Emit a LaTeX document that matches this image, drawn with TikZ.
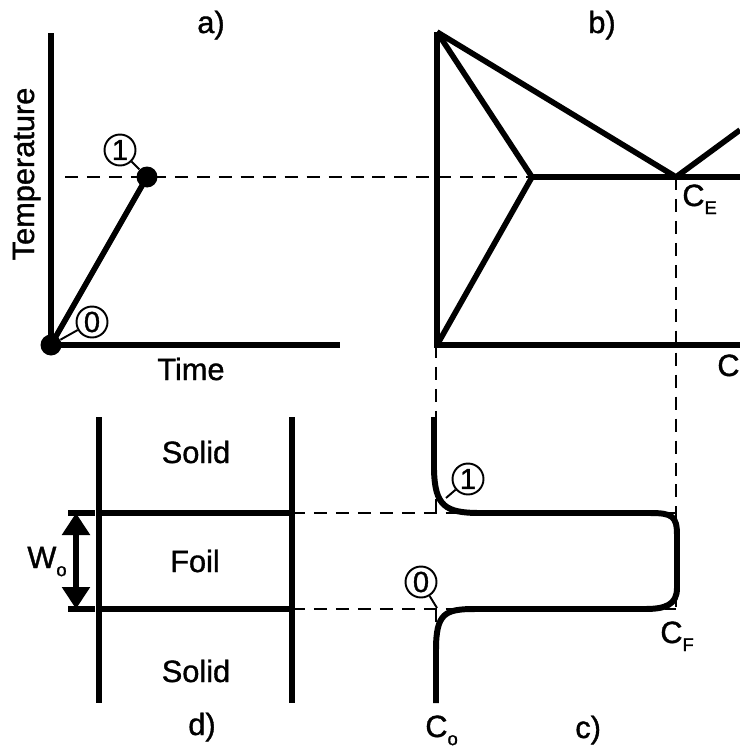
\documentclass[tikz,border=0pt]{standalone}
\usepackage{fontspec}
\setmainfont[FakeBold=1.2]{Liberation Sans}
\usetikzlibrary{arrows.meta}

\newcommand{\low}[1]{\raisebox{-0.5ex}{\fontsize{10.5}{11}\selectfont #1}}

\tikzset{
  heavy/.style={line width=3.2pt},
  guide/.style={line width=1.4pt,dash pattern=on 7.4pt off 5.1pt},
  dot/.style={circle,fill=black,inner sep=0pt,minimum size=0.42cm},
  tag/.style={circle,draw,line width=1.1pt,inner sep=0pt,minimum size=0.62cm,
    font=\fontsize{16.5}{16.5}\selectfont},
  lead/.style={line width=1.1pt},
  lbl/.style={inner sep=0pt,font=\fontsize{17.5}{20}\selectfont},
}

\begin{document}
\begin{tikzpicture}[x=0.02cm,y=-0.02cm,>=Latex]
  \useasboundingbox (0,0) rectangle (740,747);

  % guide lines between the panels
  \draw[guide] (65,177) -- (532,177);
  \draw[guide] (676,177) -- (676,609);
  \draw[guide] (436,345) -- (436,513);
  \draw[guide] (436,609) -- (436,635);
  \draw[guide] (292,513) -- (676,513);
  \draw[guide] (292,609) -- (676,609);

  % a) heating cycle
  \draw[heavy] (51,33) -- (51,345) -- (340,345);
  \node[dot] (s0) at (51,345) {};
  \node[dot] (s1) at (147,177) {};
  \draw[heavy] (s0.center) -- (s1.center);
  \node[tag] (a1) at (120,150) {1};
  \node[tag] (a0) at (92,322) {0};
  \draw[lead] (a1) -- (s1);
  \draw[lead] (a0) -- (s0);
  \node[lbl,rotate=90,anchor=base] (ty) at (34,174) {Temperature};
  \node[lbl,anchor=base west] (tx) at (157,380) {Time};
  \node[lbl,anchor=base west] (la) at (197,33) {a)};

  % b) phase diagram
  \draw[heavy] (437,32) -- (437,345) -- (740,345);
  \draw[heavy] (437,32) -- (532,177) -- (437,345);
  \draw[heavy] (437,32) -- (676,177) -- (740,130);
  \draw[heavy] (532,177) -- (740,177);
  \node[lbl,anchor=base west] (ce) at (682,206) {C\low{E}};
  \node[lbl,anchor=base west] (cx) at (717,376) {C};
  \node[lbl,anchor=base west] (lb) at (588,33) {b)};

  % c) concentration profile
  \draw[heavy,line width=3.4pt] (434,417) -- (434,470)
    .. controls (435,506) and (445,513) .. (480,513) -- (650,513)
    .. controls (672,513) and (677,516) .. (677,535) -- (677,588)
    .. controls (677,605) and (665,609) .. (645,609) -- (475,609)
    .. controls (445,609) and (436,613) .. (436,650) -- (436,703);
  \coordinate (k1) at (446,498);
  \coordinate (k0) at (437,608);
  \node[tag] (c1) at (468,479) {1};
  \node[tag] (c0) at (421,582) {0};
  \draw[lead] (c1) -- (k1);
  \draw[lead] (c0) -- (k0);
  \node[lbl,anchor=base west] (cf) at (660,643) {C\low{F}};
  \node[lbl,anchor=base west] (co) at (425,737) {C\low{o}};
  \node[lbl,anchor=base west] (lc) at (575,738) {c)};

  % d) bonded joint
  \draw[heavy] (99,417) -- (99,703);
  \draw[heavy] (292,417) -- (292,703);
  \draw[heavy] (99,513) -- (292,513);
  \draw[heavy] (99,609) -- (292,609);
  \draw[heavy] (68,513) -- (95,513);
  \draw[heavy] (68,609) -- (95,609);
  \coordinate (wt) at (76,513);
  \coordinate (wb) at (76,609);
  \draw[heavy,{Triangle[length=0.44cm,width=0.54cm]}-{Triangle[length=0.44cm,width=0.54cm]}] (wt) -- (wb);
  \node[lbl,anchor=base west] (wo) at (27,568) {W\low{o}};
  \node[lbl,anchor=base] (s2) at (196,463) {Solid};
  \node[lbl,anchor=base] (fl) at (195,572) {Foil};
  \node[lbl,anchor=base] (s3) at (196,682) {Solid};
  \node[lbl,anchor=base west] (ld) at (188,735) {d)};
\end{tikzpicture}
\end{document}
